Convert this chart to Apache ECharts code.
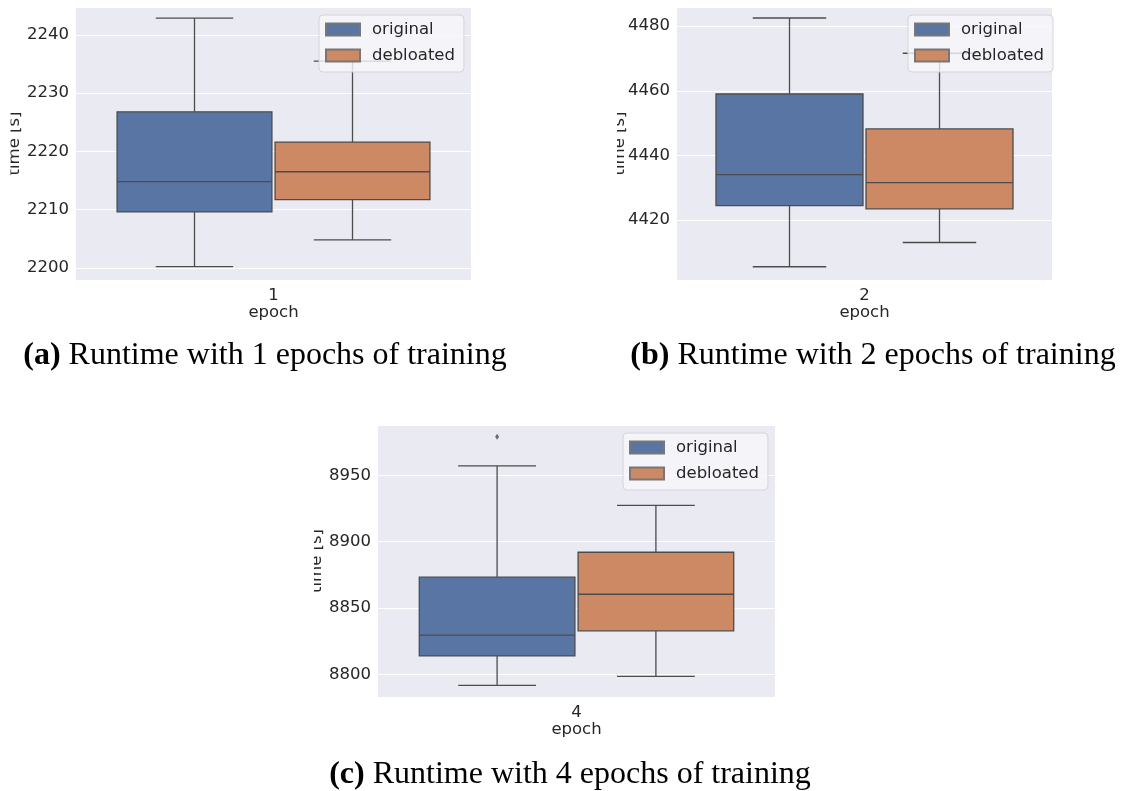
<!DOCTYPE html>
<html>
<head>
<meta charset="utf-8">
<script src="https://cdn.jsdelivr.net/npm/echarts@6/dist/echarts.min.js"></script>
<style>
html,body{margin:0;padding:0;background:#fff;}
#chart{width:1131px;height:791px;}
</style>
</head>
<body>
<div id="chart"></div>
<script>
// ---------------- data ----------------
const epochs = ['1', '2', '4'];
const seriesNames = ['original', 'debloated'];
// five-number summaries per epoch: [min whisker, Q1, median, Q3, max whisker]
const originalStats = [
  [2200.2, 2209.6, 2214.8, 2226.8, 2242.9],
  [4405.6, 4424.5, 4434.1, 4459.0, 4482.5],
  [8792.0, 8814.1, 8829.7, 8873.3, 8957.0]
];
const debloatedStats = [
  [2204.8, 2211.7, 2216.5, 2221.6, 2235.5],
  [4413.1, 4423.5, 4431.6, 4448.2, 4471.6],
  [8798.7, 8833.0, 8860.5, 8892.1, 8927.4]
];
const originalOutliers = [[], [], [8979]];
const debloatedOutliers = [[], [], []];
const yRanges = [[2197.9, 2244.8], [4401.5, 4485.9], [8783.2, 8987.8]];
const captions = [
  ['(a)', 'Runtime with 1 epochs of training'],
  ['(b)', 'Runtime with 2 epochs of training'],
  ['(c)', 'Runtime with 4 epochs of training']
];
const yAxisTitle = 'time [s]';
const xAxisTitle = 'epoch';

// ---------------- layout / style ----------------
const grids = [
  {left: 76, top: 7, width: 395, height: 273},
  {left: 677, top: 7, width: 375, height: 273},
  {left: 378, top: 425, width: 397, height: 272}
];
const yNameGaps = [53, 49, 53];
const legendPos = [
  {left: 319, top: 15},
  {left: 908, top: 15},
  {left: 623, top: 433}
];
const captionPos = [[265, 356], [873, 356], [570, 775]];
const HUE_POS = [-0.2, 0.2];
const BOX_W = 0.392;
const COLORS = ['#5875A4', '#CC8963'];
const EDGE = '#4c4c4c';
const FONT = 'DejaVu Sans';
const FS = 16.5;
const TXT = '#262626';

const chart = echarts.init(document.getElementById('chart'), null, {renderer: 'canvas'});

function renderBox(params, api) {
  const x = api.value(0);
  const pMin = api.coord([x, api.value(1)]);
  const pQ1 = api.coord([x, api.value(2)]);
  const pMed = api.coord([x, api.value(3)]);
  const pQ3 = api.coord([x, api.value(4)]);
  const pMax = api.coord([x, api.value(5)]);
  const bw = api.size([BOX_W, 0])[0];
  const cw = bw / 4;
  const cx = pMed[0];
  const fill = api.visual('color');
  const ls = {stroke: EDGE, lineWidth: 1.3};
  return {
    type: 'group',
    children: [
      {type: 'line', shape: {x1: cx, y1: pMax[1], x2: cx, y2: pQ3[1]}, style: ls},
      {type: 'line', shape: {x1: cx, y1: pQ1[1], x2: cx, y2: pMin[1]}, style: ls},
      {type: 'line', shape: {x1: cx - cw, y1: pMax[1], x2: cx + cw, y2: pMax[1]}, style: ls},
      {type: 'line', shape: {x1: cx - cw, y1: pMin[1], x2: cx + cw, y2: pMin[1]}, style: ls},
      {type: 'rect', shape: {x: cx - bw / 2, y: pQ3[1], width: bw, height: pQ1[1] - pQ3[1]},
        style: {fill: fill, stroke: EDGE, lineWidth: 1.3}},
      {type: 'line', shape: {x1: cx - bw / 2, y1: pMed[1], x2: cx + bw / 2, y2: pMed[1]}, style: ls}
    ]
  };
}

const xAxes = [], yAxes = [], series = [], legends = [], graphics = [];
const allStats = [originalStats, debloatedStats];
const allOutliers = [originalOutliers, debloatedOutliers];

grids.forEach((g, i) => {
  xAxes.push({
    gridIndex: i, type: 'value', min: -0.5, max: 0.5, interval: 0.5,
    axisLine: {show: false}, axisTick: {show: false}, splitLine: {show: false},
    axisLabel: {
      margin: 7, fontSize: FS, color: TXT, fontFamily: FONT,
      showMinLabel: false, showMaxLabel: false,
      formatter: v => (Math.abs(v) < 1e-9 ? epochs[i] : '')
    },
    name: xAxisTitle, nameLocation: 'middle', nameGap: 24, nameMoveOverlap: false,
    nameTextStyle: {fontSize: FS, color: TXT, fontFamily: FONT}
  });
  yAxes.push({
    gridIndex: i, type: 'value', min: yRanges[i][0], max: yRanges[i][1],
    axisLine: {show: false}, axisTick: {show: false},
    splitLine: {show: true, lineStyle: {color: '#ffffff', width: 1}},
    axisLabel: {margin: 7, fontSize: FS, color: TXT, fontFamily: FONT, showMinLabel: false, showMaxLabel: false,
      formatter: v => String(v)},
    name: yAxisTitle, nameLocation: 'middle', nameGap: yNameGaps[i], nameMoveOverlap: false,
    nameTextStyle: {fontSize: FS, color: TXT, fontFamily: FONT}
  });
  seriesNames.forEach((name, s) => {
    series.push({
      type: 'custom', name: name, xAxisIndex: i, yAxisIndex: i,
      renderItem: renderBox,
      itemStyle: {color: COLORS[s], borderColor: '#777', borderWidth: 0.8},
      encode: {x: 0, y: [1, 2, 3, 4, 5]},
      data: [[HUE_POS[s]].concat(allStats[s][i])],
      z: 2
    });
    if (allOutliers[s][i].length) {
      series.push({
        type: 'scatter', name: name + ' outliers', xAxisIndex: i, yAxisIndex: i,
        symbol: 'diamond', symbolSize: [4, 6],
        itemStyle: {color: EDGE},
        data: allOutliers[s][i].map(v => [HUE_POS[s], v]),
        z: 3
      });
    }
  });
  legends.push({
    orient: 'vertical', left: legendPos[i].left, top: legendPos[i].top,
    data: seriesNames, selectedMode: false,
    itemWidth: 34, itemHeight: 12, itemGap: 9,
    padding: [6, 9, 8, 6],
    backgroundColor: 'rgba(247,247,250,0.8)', borderColor: '#d4d4d8', borderWidth: 1, borderRadius: 4,
    textStyle: {fontSize: FS, color: TXT, fontFamily: FONT, lineHeight: 16, padding: [0, 0, 0, 7]},
    icon: 'rect', z: 10
  });
  graphics.push({
    type: 'text', x: captionPos[i][0], y: captionPos[i][1], z: 20,
    style: {
      text: '{b|' + captions[i][0] + '} ' + captions[i][1],
      fontFamily: 'Liberation Serif', fontSize: 32, fill: '#000',
      align: 'center', verticalAlign: 'middle',
      rich: {b: {fontWeight: 'bold', fontFamily: 'Liberation Serif', fontSize: 32, fill: '#000'}}
    }
  });
});

// crop edges of each sub-figure (the reference images are trimmed at their left edge)
graphics.push({type: 'rect', shape: {x: 0, y: 95, width: 10.5, height: 110}, style: {fill: '#fff'}, z: 30});
graphics.push({type: 'rect', shape: {x: 596, y: 95, width: 21, height: 110}, style: {fill: '#fff'}, z: 30});
graphics.push({type: 'rect', shape: {x: 294, y: 515, width: 20, height: 110}, style: {fill: '#fff'}, z: 30});

chart.setOption({
  backgroundColor: '#ffffff',
  animation: false,
  grid: grids.map(g => Object.assign({show: true, backgroundColor: '#EAEAF2', borderWidth: 0}, g)),
  xAxis: xAxes,
  yAxis: yAxes,
  legend: legends,
  series: series,
  graphic: graphics
});
</script>
</body>
</html>
